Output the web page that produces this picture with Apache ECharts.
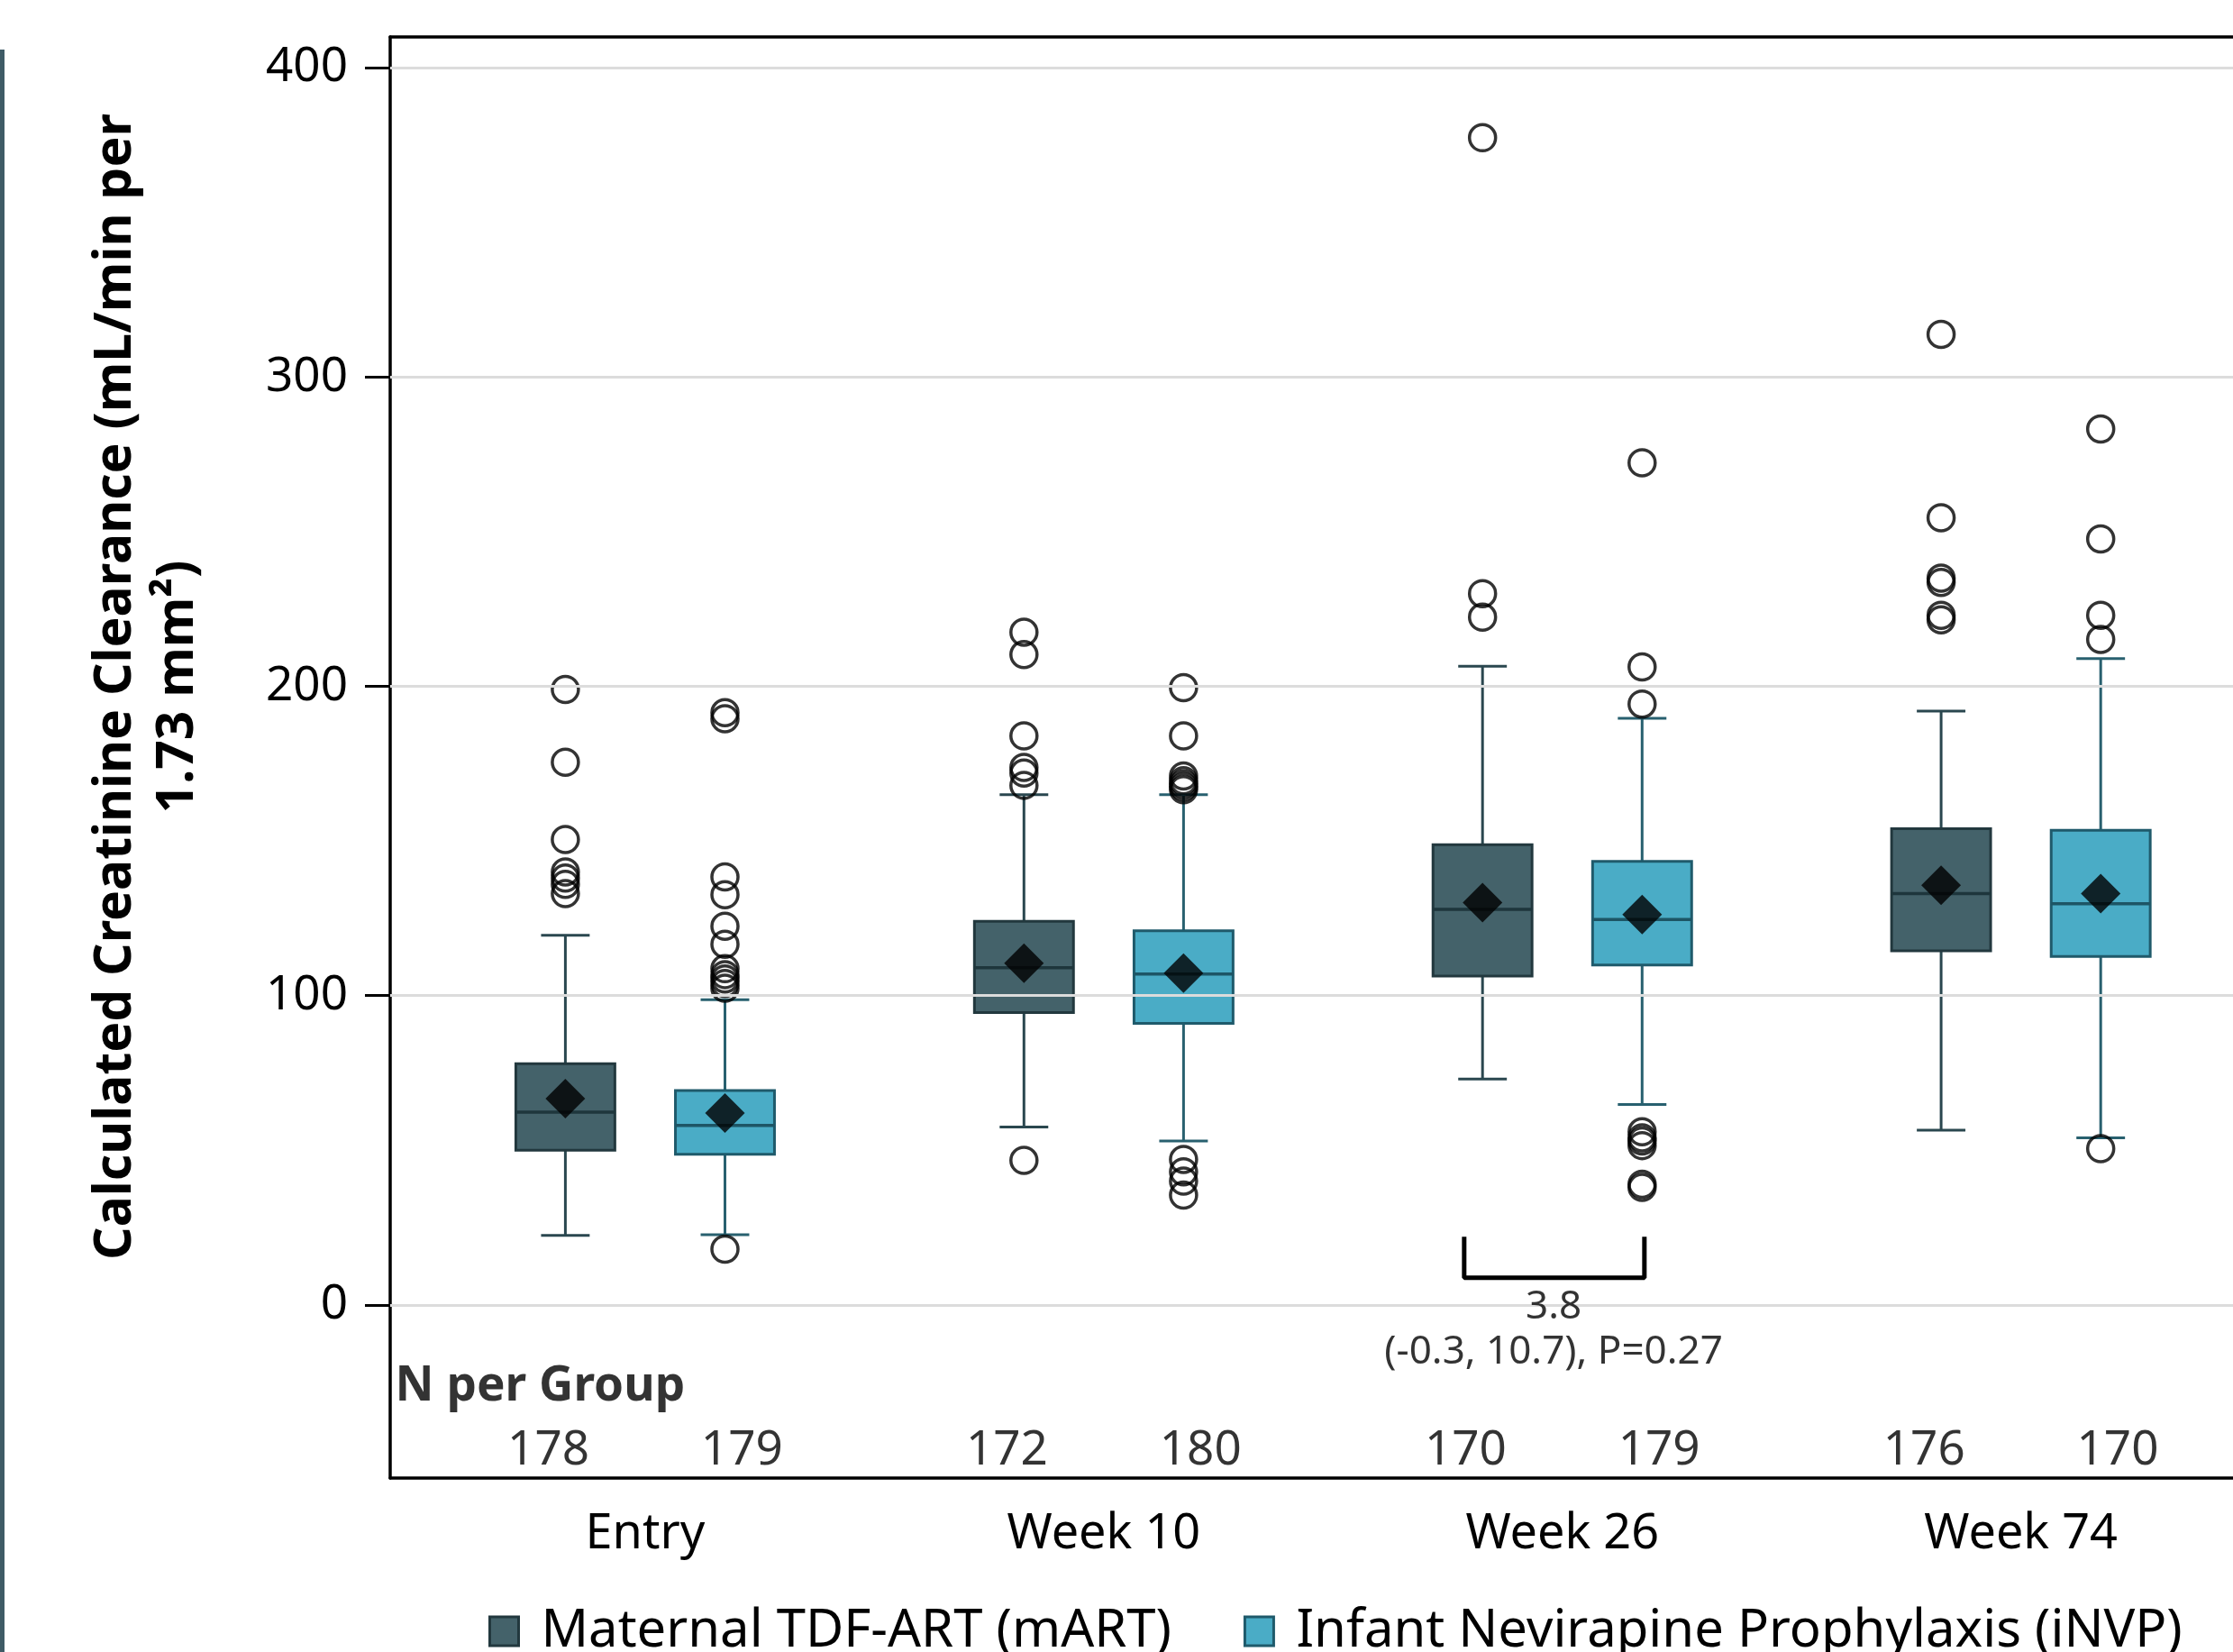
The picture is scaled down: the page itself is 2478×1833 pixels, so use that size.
<!DOCTYPE html>
<html lang="en">
<head>
<meta charset="UTF-8">
<title>Calculated Creatinine Clearance</title>
<style>
    html, body { margin: 0; padding: 0; background: #fff; }
    #main { width: 2478px; height: 1833px; }
</style>
</head>
<body>
<div id="main"></div>
<script src="https://cdn.jsdelivr.net/npm/echarts@6/dist/echarts.min.js"></script>
<script>
    // categories and groups
    const categories = ['Entry', 'Week 10', 'Week 26', 'Week 74'];
    const seriesNames = ['Maternal TDF-ART (mART)', 'Infant Nevirapine Prophylaxis (iNVP)'];

    // box stats: [lower whisker, Q1, median, Q3, upper whisker]
    const boxMART = [
        [22.5, 50, 62.3, 78, 119.5],
        [57.5, 94.5, 109, 124, 165],
        [73, 106.3, 127.9, 148.8, 206.5],
        [56.5, 114.5, 133, 154, 192]
    ];
    const boxINVP = [
        [22.7, 48.7, 58, 69.3, 98.7],
        [53, 91, 107, 121, 165],
        [64.8, 109.9, 124.6, 143.4, 189.7],
        [54, 112.7, 129.7, 153.5, 209]
    ];
    const meanMART = [66.7, 110.5, 130.1, 135.7];
    const meanINVP = [62, 107.3, 126.2, 133];

    // outliers per category
    const outMART = [
        [199, 175.5, 150.5, 140, 138, 136, 133],
        [217.5, 210.3, 184, 173.8, 172, 168, 46.7],
        [377.4, 230, 222.4],
        [313.8, 254.5, 235, 233.6, 223, 221.5]
    ];
    const outINVP = [
        [191.5, 189.5, 138.4, 132.6, 122.4, 116.6, 108.7, 106.8, 105.4, 103.9, 102.4, 18],
        [199.6, 184, 171, 169.5, 168.5, 167.5, 166.6, 47, 43, 40, 35.5],
        [272.3, 206.3, 194.3, 56, 54, 53, 51.5, 39, 38],
        [283.2, 247.7, 223, 215.2, 50.5]
    ];

    // N per group
    const nMART = [178, 172, 170, 176];
    const nINVP = [179, 180, 179, 170];

    const yTicks = [0, 100, 200, 300, 400];
    const diffText = ['3.8', '(-0.3, 10.7), P=0.27'];

    /* styles */
    const FONT = "'Noto Sans', 'Open Sans', sans-serif";
    const TXT = '#000';
    const fillM = '#44626a', edgeM = '#22383e', whiskM = '#2a474f', midM = '#1e363c';
    const fillI = '#4aacc6', edgeI = '#1f5a6b', whiskI = '#28606f', midI = '#1d5565';

    // x layout in category units
    const XMIN = -0.556, XMAX = 3.4625;
    const OFF = 0.174, BOXW = 0.216, CAPW = 0.106, NOFF = 0.211;

    const myChart = echarts.init(document.getElementById('main'));

    function boxRender(fill, edge, whisk, mid) {
        return function (params, api) {
            const x = api.value(0);
            const lo = api.coord([x, api.value(1)]);
            const q1 = api.coord([x, api.value(2)]);
            const md = api.coord([x, api.value(3)]);
            const q3 = api.coord([x, api.value(4)]);
            const hi = api.coord([x, api.value(5)]);
            const bw = api.size([BOXW, 0])[0];
            const cw = api.size([CAPW, 0])[0];
            const ws = {stroke: whisk, lineWidth: 3};
            return {
                type: 'group',
                children: [
                    {type: 'line', shape: {x1: hi[0], y1: hi[1], x2: q3[0], y2: q3[1]}, style: ws},
                    {type: 'line', shape: {x1: q1[0], y1: q1[1], x2: lo[0], y2: lo[1]}, style: ws},
                    {type: 'line', shape: {x1: hi[0] - cw / 2, y1: hi[1], x2: hi[0] + cw / 2, y2: hi[1]}, style: ws},
                    {type: 'line', shape: {x1: lo[0] - cw / 2, y1: lo[1], x2: lo[0] + cw / 2, y2: lo[1]}, style: ws},
                    {type: 'rect', shape: {x: q3[0] - bw / 2, y: q3[1], width: bw, height: q1[1] - q3[1]},
                        style: {fill: fill, stroke: edge, lineWidth: 3}},
                    {type: 'line', shape: {x1: md[0] - bw / 2, y1: md[1], x2: md[0] + bw / 2, y2: md[1]},
                        style: {stroke: mid, lineWidth: 3.5}}
                ]
            };
        };
    }

    const boxData = (stats, off) => stats.map((s, i) => [i + off].concat(s));
    const meanData = (vals, off) => vals.map((v, i) => [i + off, v]);
    const outData = (lists, off) => lists.flatMap((arr, i) => arr.map(v => [i + off, v]));

    const outlierStyle = {
        type: 'scatter', symbol: 'circle', symbolSize: 29, z: 3, silent: true,
        itemStyle: {color: 'rgba(0,0,0,0)', borderColor: '#000', borderWidth: 3.5}
    };
    const meanStyle = {
        type: 'scatter', symbol: 'diamond', symbolSize: 44, z: 5, silent: true,
        itemStyle: {color: '#000'}
    };
    const textLabel = (size, weight) => ({
        show: true, position: 'inside', color: TXT, fontFamily: FONT, fontSize: size, fontWeight: weight,
        formatter: p => p.value[2]
    });
    const frameLine = {show: true, onZero: false, lineStyle: {color: '#000', width: 3.5}};

    const option = {
        animation: false,
        backgroundColor: '#fff',
        grid: {left: 433, top: 41, right: 0, bottom: 193},
        legend: {
            left: 537, top: 1776, itemWidth: 32, itemHeight: 32, itemGap: 80, selectedMode: false,
            textStyle: {fontSize: 58, fontFamily: FONT, color: TXT, padding: [0, 0, 0, 20]},
            data: [
                {name: seriesNames[0], icon: 'rect', itemStyle: {color: fillM, borderColor: edgeM, borderWidth: 3}},
                {name: seriesNames[1], icon: 'rect', itemStyle: {color: fillI, borderColor: edgeI, borderWidth: 3}}
            ]
        },
        xAxis: [
            {
                type: 'value', min: XMIN, max: XMAX,
                axisLine: frameLine, axisTick: {show: false}, splitLine: {show: false},
                axisLabel: {
                    customValues: [0, 1, 2, 3], margin: 36,
                    fontSize: 54, fontFamily: FONT, color: TXT,
                    formatter: v => categories[Math.round(v)]
                }
            },
            {
                // top frame line
                type: 'value', position: 'top', min: XMIN, max: XMAX,
                axisLine: frameLine, axisTick: {show: false}, axisLabel: {show: false}, splitLine: {show: false}
            }
        ],
        yAxis: {
            type: 'value', min: -56, max: 410,
            axisLine: frameLine, splitLine: {show: false},
            axisTick: {show: true, customValues: yTicks, length: 28, lineStyle: {color: '#000', width: 3}},
            axisLabel: {customValues: yTicks, margin: 47, fontSize: 53, fontFamily: FONT, color: TXT}
        },
        graphic: [
            {type: 'rect', left: 0, top: 55, shape: {width: 5, height: 1778}, style: {fill: '#3f5b66'}},
            {
                type: 'text', x: 163, y: 762, rotation: Math.PI / 2,
                style: {
                    text: 'Calculated Creatinine Clearance (mL/min per\n1.73 mm²)',
                    fontFamily: FONT, fontSize: 57, fontWeight: 'bold', fill: TXT, lineHeight: 69,
                    align: 'center', verticalAlign: 'middle', textAlign: 'center', textVerticalAlign: 'middle'
                }
            }
        ],
        series: [
            {
                name: 'gridlines', type: 'line', data: [], silent: true, z: 1,
                markLine: {
                    silent: true, symbol: ['none', 'none'], label: {show: false},
                    lineStyle: {color: '#dcdcdc', width: 3, type: 'solid'},
                    data: yTicks.map(v => ({yAxis: v}))
                }
            },
            {
                name: seriesNames[0], type: 'custom', z: 2, silent: true,
                itemStyle: {color: fillM},
                renderItem: boxRender(fillM, edgeM, whiskM, midM),
                encode: {x: 0, y: [1, 2, 3, 4, 5]},
                data: boxData(boxMART, -OFF)
            },
            {
                name: seriesNames[1], type: 'custom', z: 2, silent: true,
                itemStyle: {color: fillI},
                renderItem: boxRender(fillI, edgeI, whiskI, midI),
                encode: {x: 0, y: [1, 2, 3, 4, 5]},
                data: boxData(boxINVP, OFF)
            },
            Object.assign({name: 'mART outliers', data: outData(outMART, -OFF)}, outlierStyle),
            Object.assign({name: 'iNVP outliers', data: outData(outINVP, OFF)}, outlierStyle),
            Object.assign({name: 'mART mean', data: meanData(meanMART, -OFF)}, meanStyle),
            Object.assign({name: 'iNVP mean', data: meanData(meanINVP, OFF)}, meanStyle),
            {
                // N per group row
                name: 'N', type: 'scatter', symbolSize: 0, silent: true, z: 6,
                label: textLabel(53, 'normal'),
                data: nMART.map((n, i) => [i - NOFF, -47.2, n]).concat(nINVP.map((n, i) => [i + NOFF, -47.2, n]))
            },
            {
                name: 'N title', type: 'scatter', symbolSize: 0, silent: true, z: 6,
                label: Object.assign(textLabel(53, 'bold'), {position: 'right', distance: 0}),
                data: [[-0.545, -26.5, 'N per Group']]
            },
            {
                // comparison bracket at Week 26
                name: 'bracket', type: 'line', silent: true, z: 6, symbol: 'none',
                lineStyle: {color: '#000', width: 5},
                data: [[2 - 0.214, 22], [2 - 0.214, 8.8], [2 + 0.179, 8.8], [2 + 0.179, 22]]
            },
            {
                name: 'diff', type: 'scatter', symbolSize: 0, silent: true, z: 6,
                label: textLabel(44, 'normal'),
                data: [[1.981, -0.9, diffText[0]], [1.981, -15.2, diffText[1]]]
            }
        ]
    };

    myChart.setOption(option);
</script>
</body>
</html>
